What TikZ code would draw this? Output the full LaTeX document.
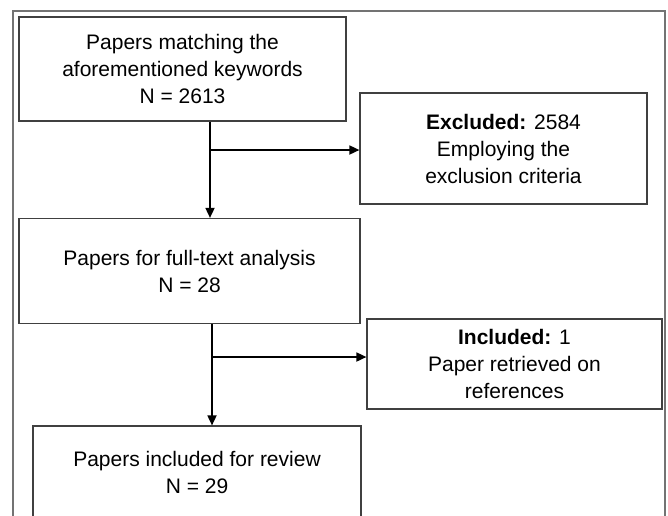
\documentclass[tikz,border=0pt]{standalone}
\usepackage{fontspec}
\setmainfont{Liberation Sans}
\usetikzlibrary{arrows.meta}
\begin{document}
\begin{tikzpicture}[x=1pt,y=-1pt,
  box/.style={draw=black!75,line width=1.2pt,align=center,inner sep=0pt,
    font=\fontsize{21}{27}\selectfont},
  arr/.style={draw=black,line width=1.7pt,-{Triangle[length=10pt,width=9pt]}}]
\useasboundingbox (0,0) rectangle (668,515);
\fill[white] (0,0) rectangle (668,515);
\draw[black!55,line width=1.2pt] (13,516) -- (13,11) -- (665,11) -- (665,516);
\node[box,minimum width=327pt,minimum height=104pt] (b1) at (182.5,69)
  {Papers matching the\\aforementioned keywords\\N = 2613};
\node[box,minimum width=287pt,minimum height=111pt] (ex) at (503.5,148.5)
  {\textbf{Excluded:} 2584\\Employing the\\exclusion criteria};
\node[box,minimum width=341pt,minimum height=105pt] (b3) at (189.5,271)
  {Papers for full-text analysis\\N = 28};
\node[box,minimum width=295pt,minimum height=90pt] (in) at (514.5,364)
  {\textbf{Included:} 1\\Paper retrieved on\\references};
\node[box,minimum width=328pt,minimum height=92pt] (b4) at (197,472)
  {Papers included for review\\N = 29};
\coordinate (v1) at (210,0);
\coordinate (v2) at (212,0);
\coordinate (h1) at (0,150);
\coordinate (h2) at (0,357);
\draw[arr] (v1 |- b1.south) -- (v1 |- b3.north);
\draw[arr] (v1 |- h1) -- (ex.west |- h1);
\draw[arr] (v2 |- b3.south) -- (v2 |- b4.north);
\draw[arr] (v2 |- h2) -- (in.west |- h2);
\end{tikzpicture}
\end{document}
